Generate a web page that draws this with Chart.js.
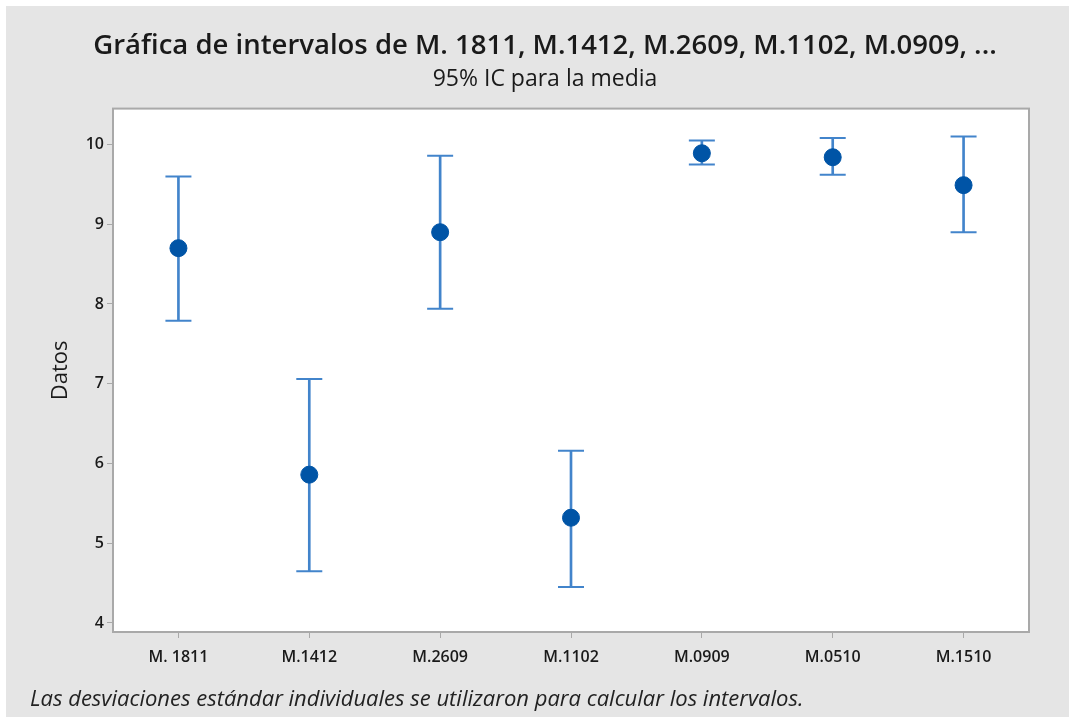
<!DOCTYPE html>
<html>
<head>
<meta charset="utf-8">
<script src="https://cdn.jsdelivr.net/npm/chart.js@4/dist/chart.umd.min.js"></script>
<style>
  html, body { margin: 0; padding: 0; background: #ffffff; }
  #panel { position: absolute; left: 6px; top: 6px; width: 1063px; height: 711px; background: #e5e5e5; }
  #panel canvas { position: absolute; left: 0; top: 0; }
  #note { position: absolute; left: 24px; top: 676px; font: italic 22px "Open Sans", sans-serif; color: #222; }
</style>
</head>
<body>
<div id="panel">
  <canvas id="chart" width="1063" height="711"></canvas>
  <div id="note">Las desviaciones estándar individuales se utilizaron para calcular los intervalos.</div>
</div>
<script>
// categories and 95% CI values
const muestras = ['M. 1811', 'M.1412', 'M.2609', 'M.1102', 'M.0909', 'M.0510', 'M.1510']
const medias = [8.70, 5.86, 8.90, 5.32, 9.89, 9.84, 9.49]
const inferior = [7.79, 4.65, 7.94, 4.45, 9.75, 9.62, 8.90]
const superior = [9.60, 7.06, 9.86, 6.16, 10.05, 10.08, 10.10]
const yTicks = [4, 5, 6, 7, 8, 9, 10]

const barColor = '#4284cb'
const dotColor = '#0054a6'
const font = '"Open Sans", sans-serif'

// white plot area with grey frame
const plotFrame = {
  id: 'plotFrame',
  beforeDraw(chart) {
    const { ctx, chartArea: a } = chart
    ctx.save()
    ctx.fillStyle = '#ffffff'
    ctx.fillRect(a.left, a.top, a.right - a.left, a.bottom - a.top)
    ctx.strokeStyle = '#a9a9a9'
    ctx.lineWidth = 2
    ctx.strokeRect(a.left, a.top, a.right - a.left, a.bottom - a.top)
    ctx.restore()
  }
}

new Chart(document.getElementById('chart'), {
  type: 'bar',
  data: {
    labels: muestras,
    datasets: [
      {
        type: 'line',
        label: 'Media',
        data: medias,
        showLine: false,
        pointStyle: 'circle',
        pointRadius: 8.5,
        pointBackgroundColor: dotColor,
        pointBorderColor: dotColor,
        order: 0,
      },
      {
        type: 'line',
        label: 'Superior',
        data: superior,
        showLine: false,
        pointStyle: 'line',
        pointRadius: 13,
        pointBorderWidth: 2,
        pointBorderColor: barColor,
        order: 1,
      },
      {
        type: 'line',
        label: 'Inferior',
        data: inferior,
        showLine: false,
        pointStyle: 'line',
        pointRadius: 13,
        pointBorderWidth: 2,
        pointBorderColor: barColor,
        order: 1,
      },
      {
        label: 'IC',
        data: inferior.map((lo, i) => [lo, superior[i]]),
        backgroundColor: barColor,
        borderWidth: 0,
        barThickness: 2,
        order: 2,
      },
    ],
  },
  options: {
    responsive: false,
    animation: false,
    layout: { padding: { left: 15, right: 0, top: 0, bottom: 37 } },
    plugins: {
      legend: { display: false },
      tooltip: { enabled: false },
      title: {
        display: true,
        text: 'Gráfica de intervalos de M. 1811, M.1412, M.2609, M.1102, M.0909, ...',
        color: '#1a1a1a',
        font: { family: font, size: 27.5, weight: '600' },
        padding: { top: 24, bottom: 3 },
      },
      subtitle: {
        display: true,
        text: '95% IC para la media',
        color: '#1a1a1a',
        font: { family: font, size: 23, weight: 'normal' },
        padding: { top: 0, bottom: 15 },
      },
    },
    scales: {
      x: {
        offset: true,
        grid: { offset: false, drawOnChartArea: false, drawTicks: true, tickLength: 6, color: '#a9a9a9' },
        border: { display: false },
        ticks: { color: '#1a1a1a', padding: 10, font: { family: font, size: 16, weight: '600' } },
        afterFit(scale) { scale.height = 48 },
      },
      y: {
        min: 3.887,
        max: 10.45,
        grid: { drawOnChartArea: false, drawTicks: true, tickLength: 6, color: '#a9a9a9' },
        border: { display: false },
        ticks: { color: '#1a1a1a', padding: 3, font: { family: font, size: 16, weight: '600' } },
        afterBuildTicks(scale) { scale.ticks = yTicks.map(v => ({ value: v })) },
        title: {
          display: true,
          text: 'Datos',
          color: '#1a1a1a',
          font: { family: font, size: 22, weight: 'normal' },
          padding: { top: 27, bottom: 0 },
        },
        afterFit(scale) { scale.width = 92 },
      },
      // empty right-hand axis: keeps the plot's right edge and lets the title centre like the reference
      yRight: {
        position: 'right',
        grid: { display: false },
        border: { display: false },
        ticks: { display: false },
        afterFit(scale) { scale.width = 40 },
      },
    },
  },
  plugins: [plotFrame],
})
</script>
</body>
</html>
